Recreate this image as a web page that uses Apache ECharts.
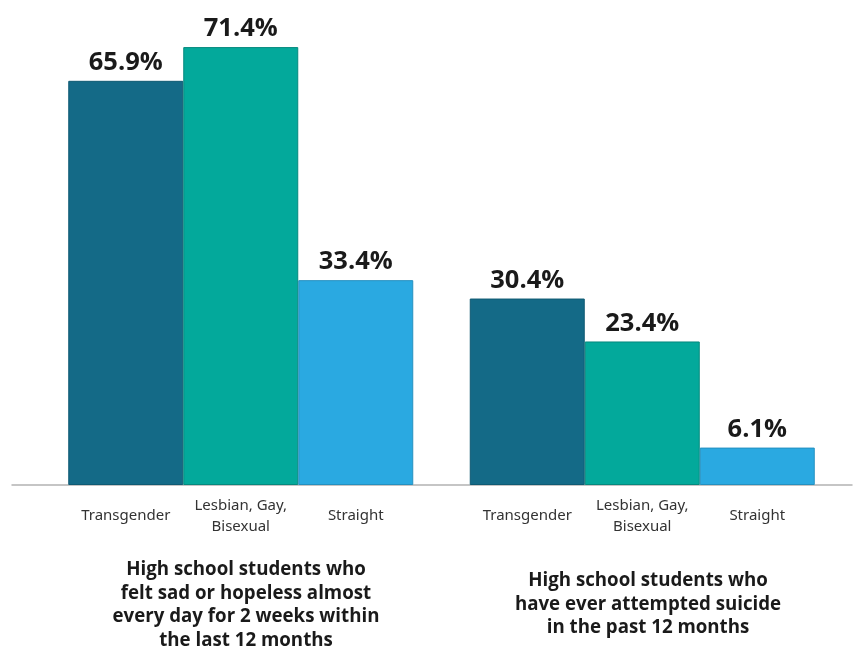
<!DOCTYPE html>
<html>
<head>
<meta charset="utf-8">
<script src="https://cdn.jsdelivr.net/npm/echarts@6/dist/echarts.min.js"></script>
<style>html,body{margin:0;padding:0;background:#fff;}#c{width:853px;height:646px;}</style>
</head>
<body>
<div id="c"></div>
<script>
const groups = ['High school students who\nfelt sad or hopeless almost\nevery day for 2 weeks within\nthe last 12 months',
                'High school students who\nhave ever attempted suicide\nin the past 12 months'];
const seriesNames = ['Transgender', 'Lesbian, Gay,\nBisexual', 'Straight'];
const transgender = [65.9, 30.4];
const lgb = [71.4, 23.4];
const straight = [33.4, 6.1];
const colors = ['#146a87', '#03a99b', '#2aa9e1'];
const borders = ['#0f5a73', '#05897e', '#2490c0'];

const values = [transgender, lgb, straight];
const series = [];
values.forEach((vals, i) => {
  series.push({
    type: 'bar', name: seriesNames[i], xAxisIndex: 0, yAxisIndex: 0,
    data: vals, barWidth: 115, barGap: '0%',
    itemStyle: { color: colors[i], borderColor: borders[i], borderWidth: 1 },
    label: { show: true, position: 'top', distance: 5, formatter: p => p.value.toFixed(1) + '%',
      fontFamily: 'Open Sans', fontWeight: 'bold', fontSize: 25.5, color: '#1a1a1a' },
    silent: true
  });
});
values.forEach((vals, i) => {
  series.push({
    type: 'bar', name: seriesNames[i] + '_lbl', xAxisIndex: 1, yAxisIndex: 0,
    data: vals, barWidth: 115, barGap: '0%',
    itemStyle: { color: 'transparent' },
    label: { show: true, position: ['50%', '100%'], offset: [0, 31], align: 'center', verticalAlign: 'middle',
      formatter: () => seriesNames[i], fontFamily: '"Noto Sans", sans-serif', fontWeight: 'normal',
      fontSize: 15, lineHeight: 21, color: '#333333' },
    silent: true
  });
});

const titleStyle = { fontFamily: 'Open Sans', fontWeight: 'bold', fontSize: 18.7, lineHeight: 23.5, color: '#1a1a1a' };
const chart = echarts.init(document.getElementById('c'), null, { renderer: 'canvas' });
chart.setOption({
  animation: false,
  backgroundColor: '#fff',
  title: [
    { text: groups[0], left: 241, top: 553, textAlign: 'center', textStyle: titleStyle },
    { text: groups[1], left: 643, top: 564, textAlign: 'center', textStyle: titleStyle }
  ],
  grid: [
    { left: 40, right: 10, top: 25, bottom: 161 },
    { left: 12, right: 1, top: 25, bottom: 161 }
  ],
  xAxis: [
    { type: 'category', gridIndex: 0, data: groups, axisLine: { show: false }, axisTick: { show: false }, axisLabel: { show: false } },
    { type: 'category', gridIndex: 0, data: groups, axisLine: { show: false }, axisTick: { show: false }, axisLabel: { show: false } },
    { type: 'value', gridIndex: 1, min: 0, max: 1, axisLine: { show: true, onZero: false, lineStyle: { color: '#b3b3b3', width: 1.5 } },
      axisTick: { show: false }, axisLabel: { show: false }, splitLine: { show: false } }
  ],
  yAxis: [
    { type: 'value', gridIndex: 0, min: 0, max: 75, show: false },
    { type: 'value', gridIndex: 1, min: 0, max: 75, show: false }
  ],
  series: series
});
</script>
</body>
</html>
